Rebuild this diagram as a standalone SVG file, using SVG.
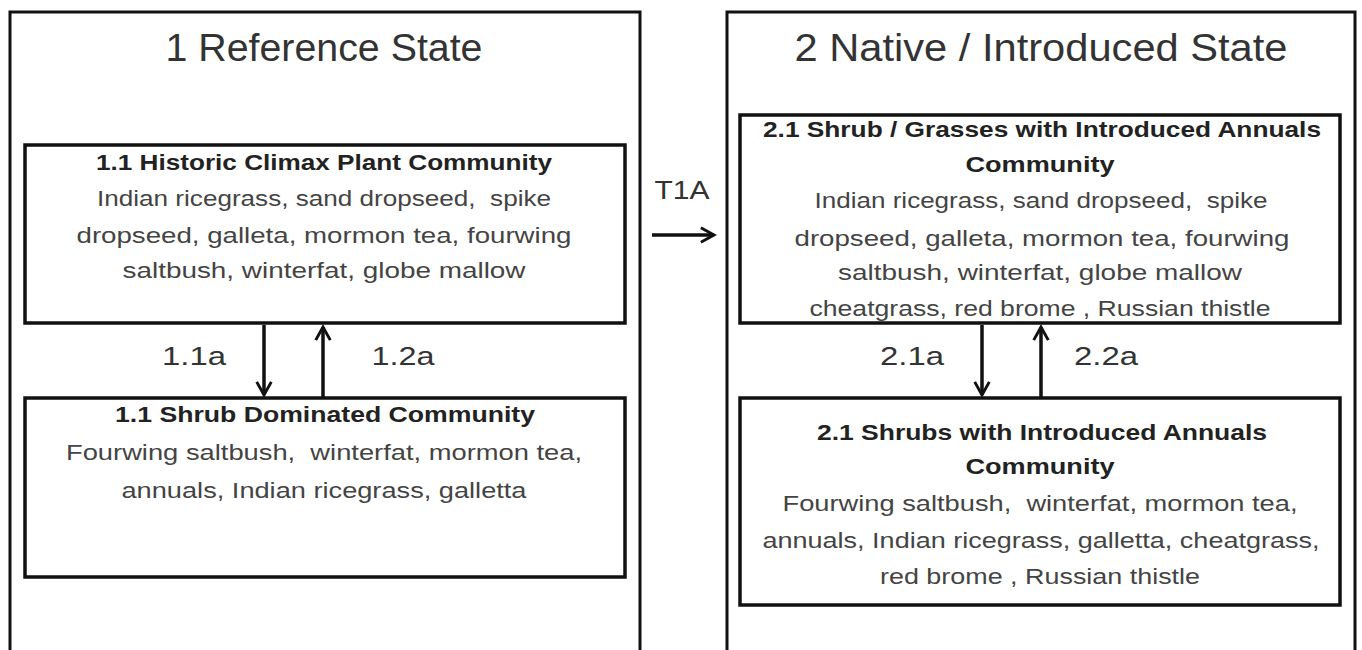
<svg xmlns="http://www.w3.org/2000/svg" width="1362" height="650" viewBox="0 0 1362 650">
<style>
.box{fill:none;stroke:#111;stroke-width:3.5}
.outer{fill:none;stroke:#111;stroke-width:3}
text{font-family:"Liberation Sans",Arial,sans-serif;text-anchor:middle;white-space:pre}
.title{font-size:38px;fill:#333}
.head{font-size:22px;font-weight:bold;fill:#222}
.body{font-size:22px;fill:#444}
.lab{font-size:26px;fill:#333}
.con{stroke:#111;stroke-width:3.5;fill:none}
</style>
<defs>
<marker id="ah" viewBox="0 0 12 12" refX="10" refY="6" markerWidth="5" markerHeight="5" orient="auto" markerUnits="strokeWidth">
<path d="M1,1 L10,6 L1,11" fill="none" stroke="#111" stroke-width="2"/>
</marker>
</defs>
<rect width="1362" height="650" fill="#fff"/>
<g id="state1">
<rect class="outer" x="10" y="12" width="630" height="660"/>
<text class="title" x="324" y="61" textLength="317" lengthAdjust="spacingAndGlyphs">1 Reference State</text>
</g>
<g id="state2">
<rect class="outer" x="727" y="12" width="628" height="660"/>
<text class="title" x="1041" y="61" textLength="493" lengthAdjust="spacingAndGlyphs">2 Native / Introduced State</text>
</g>
<g id="n11">
<rect class="box" x="25" y="145" width="600" height="178"/>
<text class="head" x="324" y="170" textLength="456" lengthAdjust="spacingAndGlyphs">1.1 Historic Climax Plant Community</text>
<text class="body" x="324" y="206" textLength="454" lengthAdjust="spacingAndGlyphs">Indian ricegrass, sand dropseed,  spike</text>
<text class="body" x="324" y="243" textLength="495" lengthAdjust="spacingAndGlyphs">dropseed, galleta, mormon tea, fourwing</text>
<text class="body" x="324" y="278" textLength="403" lengthAdjust="spacingAndGlyphs">saltbush, winterfat, globe mallow</text>
</g>
<g id="n12">
<rect class="box" x="25" y="398" width="600" height="179"/>
<text class="head" x="325" y="422" textLength="420" lengthAdjust="spacingAndGlyphs">1.1 Shrub Dominated Community</text>
<text class="body" x="324" y="460" textLength="516" lengthAdjust="spacingAndGlyphs">Fourwing saltbush,  winterfat, mormon tea,</text>
<text class="body" x="324" y="498" textLength="405" lengthAdjust="spacingAndGlyphs">annuals, Indian ricegrass, galletta</text>
</g>
<g id="n21">
<rect class="box" x="740" y="115" width="600" height="208"/>
<text class="head" x="1042" y="137" textLength="558" lengthAdjust="spacingAndGlyphs">2.1 Shrub / Grasses with Introduced Annuals</text>
<text class="head" x="1040" y="172" textLength="149" lengthAdjust="spacingAndGlyphs">Community</text>
<text class="body" x="1041" y="208" textLength="453" lengthAdjust="spacingAndGlyphs">Indian ricegrass, sand dropseed,  spike</text>
<text class="body" x="1042" y="246" textLength="495" lengthAdjust="spacingAndGlyphs">dropseed, galleta, mormon tea, fourwing</text>
<text class="body" x="1040" y="280" textLength="404" lengthAdjust="spacingAndGlyphs">saltbush, winterfat, globe mallow</text>
<text class="body" x="1040" y="316" textLength="461" lengthAdjust="spacingAndGlyphs">cheatgrass, red brome , Russian thistle</text>
</g>
<g id="n22">
<rect class="box" x="740" y="398" width="600" height="207"/>
<text class="head" x="1042" y="440" textLength="450" lengthAdjust="spacingAndGlyphs">2.1 Shrubs with Introduced Annuals</text>
<text class="head" x="1040" y="474" textLength="149" lengthAdjust="spacingAndGlyphs">Community</text>
<text class="body" x="1040" y="511" textLength="515" lengthAdjust="spacingAndGlyphs">Fourwing saltbush,  winterfat, mormon tea,</text>
<text class="body" x="1041" y="548" textLength="557" lengthAdjust="spacingAndGlyphs">annuals, Indian ricegrass, galletta, cheatgrass,</text>
<text class="body" x="1040" y="584" textLength="320" lengthAdjust="spacingAndGlyphs">red brome , Russian thistle</text>
</g>
<g id="connectors">
<line class="con" x1="264" y1="325" x2="264" y2="395" marker-end="url(#ah)"/>
<line class="con" x1="323" y1="397" x2="323" y2="327" marker-end="url(#ah)"/>
<line class="con" x1="982" y1="325" x2="982" y2="395" marker-end="url(#ah)"/>
<line class="con" x1="1041" y1="397" x2="1041" y2="327" marker-end="url(#ah)"/>
<line class="con" x1="652" y1="235" x2="714" y2="235" marker-end="url(#ah)"/>
<text class="lab" x="194" y="365" textLength="64" lengthAdjust="spacingAndGlyphs">1.1a</text>
<text class="lab" x="403" y="365" textLength="63" lengthAdjust="spacingAndGlyphs">1.2a</text>
<text class="lab" x="912" y="365" textLength="64" lengthAdjust="spacingAndGlyphs">2.1a</text>
<text class="lab" x="1106" y="365" textLength="64" lengthAdjust="spacingAndGlyphs">2.2a</text>
<text class="lab" x="682" y="199" textLength="55" lengthAdjust="spacingAndGlyphs">T1A</text>
</g>
</svg>
